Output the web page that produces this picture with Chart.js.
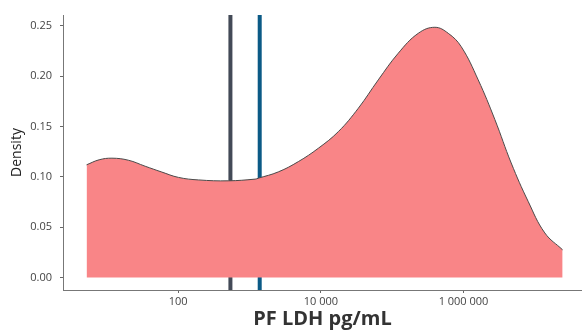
<!DOCTYPE html>
<html lang="en">
<head>
  <meta charset="UTF-8">
  <title>PF LDH density</title>
  <script src="https://cdn.jsdelivr.net/npm/chart.js"></script>
  <style>
    body { margin: 0; padding: 0; background: #fff; }
    #wrap { width: 582px; height: 331px; position: relative; }
  </style>
</head>
<body>
  <div id="wrap"><canvas id="densityChart"></canvas></div>

  <script>
    // density curve (PF LDH in pg/mL, log scale)
    const ldhValues = [5.2, 7.8, 11.8, 20, 34.5, 58, 101, 192, 506, 1200, 1330, 2540, 4840, 9230,
      17600, 33500, 63800, 121600, 232000, 397000, 611000, 929000, 1607000, 2754000,
      4660000, 8050000, 13800000, 24500000];
    const densityValues = [0.112, 0.117, 0.1186, 0.1166, 0.1106, 0.105, 0.0995, 0.097, 0.0961, 0.0978,
      0.0987, 0.105, 0.1152, 0.1285, 0.145, 0.1682, 0.1964, 0.2229, 0.2427, 0.2487, 0.2427,
      0.2294, 0.1964, 0.1569, 0.1138, 0.0757, 0.0443, 0.0275];

    // the two reference lines
    const grayLineX = 540;
    const blueLineX = 1390;

    const xTicks = [100, 10000, 1000000];
    const yTicks = [0, 0.05, 0.10, 0.15, 0.20, 0.25];
    const xMin = 2.43, xMax = 45800000;
    const yMin = -0.0124, yMax = 0.2609;

    const curve = ldhValues.map((v, i) => ({ x: v, y: densityValues[i] }));
    const vline = v => [{ x: v, y: yMin }, { x: v, y: yMax }];

    const fmtThousands = v => String(v).replace(/\B(?=(\d{3})+(?!\d))/g, ' ');

    const ctx = document.getElementById("densityChart").getContext("2d");
    new Chart(ctx, {
      type: 'line',
      data: {
        datasets: [
          {
            data: curve,
            borderColor: '#4a4a4a',
            borderWidth: 1,
            backgroundColor: '#f98587',
            fill: 'origin',
            pointRadius: 0,
            tension: 0.4
          },
          {
            data: vline(grayLineX),
            borderColor: '#434a57',
            borderWidth: 4,
            pointRadius: 0,
            fill: false
          },
          {
            data: vline(blueLineX),
            borderColor: '#0b5a86',
            borderWidth: 4,
            pointRadius: 0,
            fill: false
          }
        ]
      },
      options: {
        responsive: true,
        maintainAspectRatio: false,
        animation: false,
        layout: { padding: { top: 15, right: 0, left: 0, bottom: 0 } },
        plugins: { legend: { display: false }, tooltip: { enabled: false } },
        scales: {
          x: {
            type: 'logarithmic',
            min: xMin,
            max: xMax,
            afterBuildTicks: s => { s.ticks = xTicks.map(v => ({ value: v })); },
            afterFit: s => { s.height = 41; },
            grid: { drawOnChartArea: false, drawTicks: true, tickLength: 3, color: '#666' },
            border: { display: true, color: '#777', width: 1 },
            ticks: {
              autoSkip: false, maxRotation: 0, padding: 2,
              color: '#444', font: { family: 'Open Sans', size: 11 },
              callback: v => fmtThousands(v)
            },
            title: {
              display: true, text: 'PF LDH pg/mL', color: '#333',
              font: { family: 'Open Sans', size: 20, weight: 'bold' }, padding: { top: 0, bottom: 0 }
            }
          },
          y: {
            min: yMin,
            max: yMax,
            afterBuildTicks: s => { s.ticks = yTicks.map(v => ({ value: v })); },
            afterFit: s => { s.width = 63; },
            grid: { drawOnChartArea: false, drawTicks: true, tickLength: 3, color: '#666' },
            border: { display: true, color: '#777', width: 1 },
            ticks: {
              padding: 8, color: '#444', font: { family: 'Open Sans', size: 11 },
              callback: v => Number(v).toFixed(2)
            },
            title: {
              display: true, text: 'Density', color: '#222',
              font: { family: 'Open Sans', size: 14 }, padding: { top: 9, bottom: 0 }
            }
          }
        }
      }
    });
  </script>
</body>
</html>
